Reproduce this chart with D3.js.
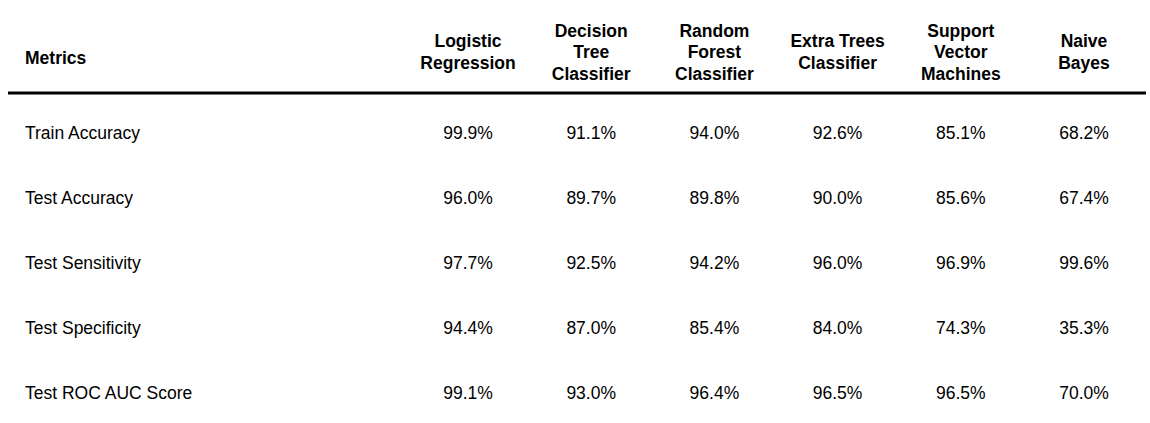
<!DOCTYPE html>
<html>
<head>
<meta charset="utf-8">
<script src="https://cdn.jsdelivr.net/npm/d3@7"></script>
<style>
  body { margin: 0; background: #fff; }
  text { font-family: "Liberation Sans", Arial, sans-serif; fill: #000; }
</style>
</head>
<body>
<svg id="chart" width="1150" height="423"></svg>
<script>
const models = [
  ["Logistic", "Regression"],
  ["Decision", "Tree", "Classifier"],
  ["Random", "Forest", "Classifier"],
  ["Extra Trees", "Classifier"],
  ["Support", "Vector", "Machines"],
  ["Naive", "Bayes"]
];
const metrics = ["Train Accuracy", "Test Accuracy", "Test Sensitivity", "Test Specificity", "Test ROC AUC Score"];
const trainAcc = [99.9, 91.1, 94.0, 92.6, 85.1, 68.2];
const testAcc = [96.0, 89.7, 89.8, 90.0, 85.6, 67.4];
const testSens = [97.7, 92.5, 94.2, 96.0, 96.9, 99.6];
const testSpec = [94.4, 87.0, 85.4, 84.0, 74.3, 35.3];
const testAuc = [99.1, 93.0, 96.4, 96.5, 96.5, 70.0];
const rows = [trainAcc, testAcc, testSens, testSpec, testAuc];

const svg = d3.select("#chart");
const x = d3.scalePoint().domain(d3.range(models.length)).range([468, 1084]);
const y = d3.scaleBand().domain(d3.range(metrics.length)).range([100.5, 425.5]);
const fs = 17.5, lh = 21.5, headMid = 52;

// header
svg.append("text").attr("x", 25).attr("y", headMid + 12)
  .attr("font-size", fs).attr("font-weight", "bold").text("Metrics");

models.forEach((lines, i) => {
  const t = svg.append("text").attr("text-anchor", "middle")
    .attr("font-size", fs).attr("font-weight", "bold");
  const y0 = headMid + 6 - (lines.length - 1) * lh / 2;
  lines.forEach((l, k) => {
    t.append("tspan").attr("x", x(i)).attr("y", y0 + k * lh).text(l);
  });
});

svg.append("line").attr("x1", 8).attr("x2", 1146).attr("y1", 93).attr("y2", 93)
  .attr("stroke", "#000").attr("stroke-width", 3);

// body
metrics.forEach((m, r) => {
  const cy = y(r) + y.bandwidth() / 2 + 6;
  svg.append("text").attr("x", 25).attr("y", cy).attr("font-size", fs).text(m);
  svg.selectAll(null).data(rows[r]).enter().append("text")
    .attr("x", (d, i) => x(i))
    .attr("y", cy).attr("text-anchor", "middle").attr("font-size", fs)
    .text(d => d.toFixed(1) + "%");
});
</script>
</body>
</html>
